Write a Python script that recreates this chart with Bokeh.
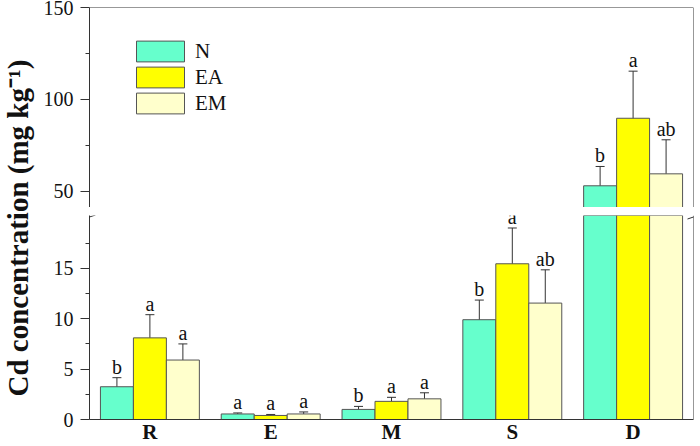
import math
from bokeh.plotting import figure
from bokeh.layouts import row, column
from bokeh.models import (ColumnDataSource, FactorRange, Range1d, FixedTicker, Whisker,
                          TeeHead, LabelSet, Span, Label, Legend, LegendItem, Arrow)
from bokeh.transform import dodge
from bokeh.core.properties import value
from bokeh.embed import file_html
from bokeh.resources import INLINE

# ---------------- data ----------------
cats = ["R", "E", "M", "S", "D"]
series = ["N", "EA", "EM"]
colors = ["#66FFCC", "#FFFF00", "#FFFFCC"]

N_vals = [3.25, 0.55, 1.0, 9.9, 53.1]
N_low = [2.55, 0.45, 0.73, 8.05, 47.8]
N_up = [4.15, 0.65, 1.3, 11.85, 63.6]
N_sig = ["b", "a", "b", "b", "b"]

EA_vals = [8.1, 0.4, 1.8, 15.45, 89.8]
EA_low = [5.9, 0.3, 1.42, 11.85, 72.1]
EA_up = [10.4, 0.5, 2.2, 19.0, 115.4]
EA_sig = ["a", "a", "a", "a", "a"]

EM_vals = [5.9, 0.55, 2.05, 11.55, 59.6]
EM_low = [4.3, 0.4, 1.55, 8.3, 47.7]
EM_up = [7.5, 0.75, 2.65, 14.85, 78.1]
EM_sig = ["a", "a", "a", "ab", "ab"]

lower_ticks = [0, 5, 10, 15]
lower_minor = [2.5, 7.5, 12.5, 17.5]
upper_ticks = [50, 100, 150]
upper_minor = [75, 125]

y_title = "Cd concentration  (mg kg\u207b\u00b9)"

# ---------------- layout constants ----------------
T = 36                 # width of title strip
W = 700 - T
LOW_RANGE = (0, 20.24)
UP_RANGE = (41.3, 150)
BAR_W = 0.273
offsets = [-BAR_W, 0.0, BAR_W]
FONT = "Liberation Serif"
DARK = "#333333"

all_vals = [N_vals, EA_vals, EM_vals]
all_low = [N_low, EA_low, EM_low]
all_up = [N_up, EA_up, EM_up]
all_sig = [N_sig, EA_sig, EM_sig]

x_range = FactorRange(factors=cats, range_padding=0)


def make_fig(h, yr, top, bottom, with_x):
    p = figure(width=W, height=h, x_range=x_range, y_range=Range1d(*yr),
               output_backend="svg", toolbar_location=None,
               min_border_left=89 - T, min_border_right=7,
               min_border_top=top, min_border_bottom=bottom,
               outline_line_color=None,
               x_axis_location="below" if with_x else None)
    p.grid.visible = False
    ya = p.yaxis[0]
    ya.axis_line_color = DARK
    ya.major_tick_line_color = DARK
    ya.minor_tick_line_color = DARK
    ya.major_tick_out = 9
    ya.major_tick_in = 0
    ya.minor_tick_out = 4
    ya.minor_tick_in = 0
    ya.major_label_standoff = 7
    ya.major_label_text_font = FONT
    ya.major_label_text_font_size = "20px"
    ya.major_label_text_color = "#111111"
    return p


p_up = make_fig(207, UP_RANGE, 7, 0, False)
p_low = make_fig(239, LOW_RANGE, 8, 27, True)

p_up.yaxis[0].ticker = FixedTicker(ticks=upper_ticks, minor_ticks=upper_minor)
p_low.yaxis[0].ticker = FixedTicker(ticks=lower_ticks, minor_ticks=lower_minor)

xa = p_low.xaxis[0]
xa.axis_line_color = DARK
xa.major_tick_out = 0
xa.major_tick_in = 0
xa.minor_tick_out = 0
xa.major_label_standoff = 0
xa.major_label_text_font = FONT
xa.major_label_text_font_style = "bold"
xa.major_label_text_font_size = "21px"
xa.major_label_text_color = "#111111"

legend_items = []
for i, (name, col, off) in enumerate(zip(series, colors, offsets)):
    for p, test in ((p_up, lambda v: v > UP_RANGE[0]), (p_low, lambda v: True)):
        idx = [k for k, v in enumerate(all_vals[i]) if test(v)]
        src = ColumnDataSource(dict(cat=[cats[k] for k in idx],
                                    val=[all_vals[i][k] for k in idx]))
        r = p.vbar(x=dodge("cat", off, range=x_range), top="val", bottom=0,
                   width=BAR_W, source=src, fill_color=col,
                   line_color="#555555", line_width=1)
        if p is p_up:
            legend_items.append(LegendItem(label=name, renderers=[r]))

# error bars and significance letters, split by panel
for i, off in enumerate(offsets):
    for p, test in ((p_up, lambda v: v > LOW_RANGE[1]), (p_low, lambda v: v <= LOW_RANGE[1])):
        idx = [k for k, v in enumerate(all_vals[i]) if test(v)]
        if not idx:
            continue
        src = ColumnDataSource(dict(
            cat=[cats[k] for k in idx],
            low=[all_low[i][k] for k in idx],
            up=[all_up[i][k] for k in idx],
            sig=[all_sig[i][k] for k in idx],
        ))
        w = Whisker(base=dodge("cat", off, range=x_range), lower="low", upper="up",
                    source=src, line_color=DARK, line_width=1,
                    upper_head=TeeHead(size=9, line_color=DARK, line_width=1),
                    lower_head=TeeHead(size=9, line_color=DARK, line_width=1))
        p.add_layout(w)
        lab = LabelSet(x=dodge("cat", off, range=x_range), y="up", text="sig",
                       source=src, text_align="center", text_baseline="bottom",
                       y_offset=0, text_font=value(FONT), text_font_size="20px",
                       text_color="#111111")
        p.add_layout(lab)

# frame lines (top and right)
p_up.add_layout(Span(location=UP_RANGE[1], dimension="width", line_color=DARK, line_width=1))
p_up.add_layout(Span(location=len(cats), dimension="height", line_color=DARK, line_width=1))
p_low.add_layout(Span(location=len(cats), dimension="height", line_color=DARK, line_width=1))

# axis break marks (drawn in the lower panel, just above and at its top)
px_low = (LOW_RANGE[1] - LOW_RANGE[0]) / 204.0
px_x = len(cats) / 604.0
for xe in (0, len(cats)):
    for yc in (LOW_RANGE[1] + 5 * px_low, LOW_RANGE[1] - 1.5 * px_low):
        p_low.add_layout(Arrow(end=None, x_start=xe - 6 * px_x, y_start=yc - 2 * px_low,
                               x_end=xe + 6 * px_x, y_end=yc + 2 * px_low,
                               line_color=DARK, line_width=1))

legend = Legend(items=legend_items, location=(41, 91), padding=0, margin=0,
                border_line_color=None, background_fill_alpha=0,
                glyph_width=60, glyph_height=26, spacing=0, label_standoff=5,
                label_text_font=FONT, label_text_font_size="21px",
                label_text_color="#111111")
p_up.add_layout(legend, "center")

# title strip
tf = figure(width=T, height=446, x_range=Range1d(0, T), y_range=Range1d(0, 446),
            output_backend="svg", toolbar_location=None, min_border=0,
            outline_line_color=None, x_axis_location=None, y_axis_location=None)
tf.grid.visible = False
tf.add_layout(Label(x=17, y=222, text=y_title, angle=math.pi / 2,
                    text_align="center", text_baseline="middle",
                    text_font=FONT, text_font_style="bold", text_font_size="29px",
                    text_color="#111111"))

layout = row(tf, column(p_up, p_low))

open("out.html", "w").write(file_html(layout, INLINE))
